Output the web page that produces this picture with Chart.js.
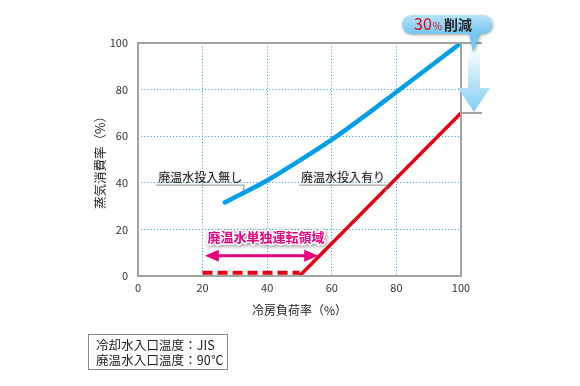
<!DOCTYPE html>
<html>
<head>
<meta charset="utf-8">
<script src="https://cdn.jsdelivr.net/npm/chart.js@4/dist/chart.umd.min.js"></script>
<style>
    html, body { margin: 0; padding: 0; background: #fff; }
    #wrap { position: relative; width: 580px; height: 386px; }
    #note {
        position: absolute; left: 88px; top: 334px; width: 140px; height: 36px;
        border: 1px solid #8a8a8a; box-sizing: border-box; white-space: nowrap;
        font: 12.5px "Noto Sans CJK JP", sans-serif; color: #222;
        padding: 2px 0 0 7px; line-height: 15px; letter-spacing: 0.1px;
    }
</style>
</head>
<body>
<div id="wrap">
    <canvas id="chart" width="580" height="386"></canvas>
    <div id="note">冷却水入口温度：JIS<br>廃温水入口温度：90℃</div>
</div>
<script>
// 冷房負荷率 (%) vs 蒸気消費率 (%)
const loadRate = [26.9, 30, 40, 50, 60, 70, 80, 90, 100];
const steamWithout = [31.6, 33.8, 41, 49.5, 58.5, 68.5, 79, 89.5, 100];

const withLoad = [50, 100];
const steamWith = [0, 70];

const soloLoad = [20, 50];
const soloSteam = [1.4, 1.4];

// 廃温水単独運転領域 arrow
const soloArrowLoad = [20.7, 55.8];
const soloArrowLevel = 8.7;

const tickValues = [0, 20, 40, 60, 80, 100];

const labelWithout = '廃温水投入無し';
const labelWith = '廃温水投入有り';
const labelSolo = '廃温水単独運転領域';
const reductionPct = '30';
const reductionText = '削減';

const FONT = '"Noto Sans CJK JP", "Noto Sans", sans-serif';
const BLUE = '#00a0e9';
const RED = '#e60012';
const PINK = '#e4007f';
const FRAME = '#a3a3a3';
const GRID = '#1c9fe0';

function toPoints(xs, ys) {
    return xs.map((x, i) => ({ x: x, y: ys[i] }));
}

function gridColor(c) {
    // no inner line on the frame itself
    if (c.tick && (c.tick.value === 0 || c.tick.value === 100)) return 'rgba(0,0,0,0)';
    return GRID;
}

function leaderLabel(ctx, text, tx, ty, px, py) {
    ctx.save();
    ctx.font = '12px ' + FONT;
    const w = ctx.measureText(text).width;
    ctx.strokeStyle = '#8c8c8c';
    ctx.lineWidth = 1;
    ctx.beginPath();
    ctx.moveTo(tx - 2, ty + 3.5);
    ctx.lineTo(tx + w + 2, ty + 3.5);
    ctx.lineTo(px, py);
    ctx.stroke();
    ctx.shadowColor = 'rgba(0,0,0,0.25)';
    ctx.shadowBlur = 2;
    ctx.fillStyle = '#222';
    ctx.textBaseline = 'alphabetic';
    ctx.fillText(text, tx, ty);
    ctx.restore();
}

const overlay = {
    id: 'overlay',
    afterDatasetsDraw(chart) {
        const ctx = chart.ctx;
        const xs = chart.scales.x;
        const ys = chart.scales.y;
        const area = chart.chartArea;

        // frame
        ctx.save();
        ctx.strokeStyle = FRAME;
        ctx.lineWidth = 2;
        ctx.strokeRect(area.left, area.top, area.right - area.left, area.bottom - area.top);
        const yTop = ys.getPixelForValue(100);
        const yLow = ys.getPixelForValue(steamWith[1]);
        ctx.beginPath();
        ctx.moveTo(area.right, yTop);
        ctx.lineTo(area.right + 21, yTop);
        ctx.moveTo(area.right, yLow);
        ctx.lineTo(area.right + 21, yLow);
        ctx.stroke();
        ctx.restore();

        // gradient reduction arrow
        const cx = area.right + 13;
        ctx.save();
        const g = ctx.createLinearGradient(0, yTop + 4, 0, yLow);
        g.addColorStop(0, 'rgba(255,255,255,1)');
        g.addColorStop(1, '#7fcdf1');
        ctx.fillStyle = g;
        ctx.beginPath();
        ctx.moveTo(cx - 6, yTop + 2);
        ctx.lineTo(cx + 6, yTop + 2);
        ctx.lineTo(cx + 6, yLow - 25);
        ctx.lineTo(cx + 16, yLow - 25);
        ctx.lineTo(cx, yLow - 1);
        ctx.lineTo(cx - 16, yLow - 25);
        ctx.lineTo(cx - 6, yLow - 25);
        ctx.closePath();
        ctx.fill();
        ctx.restore();

        // callout bubble
        ctx.save();
        const bx = area.right - 59, by = yTop - 28, bw = 90, bh = 19, r = 9.5;
        ctx.shadowColor = 'rgba(0,0,0,0.35)';
        ctx.shadowBlur = 3;
        ctx.shadowOffsetX = 1;
        ctx.shadowOffsetY = 1;
        const bg = ctx.createLinearGradient(0, by, 0, by + bh);
        bg.addColorStop(0, '#b5e3f8');
        bg.addColorStop(1, '#74c7ee');
        ctx.fillStyle = bg;
        ctx.beginPath();
        ctx.moveTo(bx + r, by);
        ctx.lineTo(bx + bw - r, by);
        ctx.arc(bx + bw - r, by + r, r, -Math.PI / 2, Math.PI / 2);
        ctx.lineTo(cx + 6, by + bh);
        ctx.lineTo(cx - 1, by + bh + 18);
        ctx.lineTo(cx - 5, by + bh);
        ctx.lineTo(bx + r, by + bh);
        ctx.arc(bx + r, by + r, r, Math.PI / 2, Math.PI * 1.5);
        ctx.closePath();
        ctx.fill();
        ctx.restore();

        ctx.save();
        ctx.textBaseline = 'alphabetic';
        let tx = bx + 12;
        const tyb = by + 15;
        ctx.fillStyle = RED;
        ctx.font = '16px ' + FONT;
        ctx.fillText(reductionPct, tx, tyb);
        tx += ctx.measureText(reductionPct).width + 1;
        ctx.font = '10px ' + FONT;
        ctx.fillText('%', tx, tyb);
        tx += ctx.measureText('%').width + 2;
        ctx.fillStyle = '#222';
        ctx.font = 'bold 14px ' + FONT;
        ctx.fillText(reductionText, tx, tyb);
        ctx.restore();

        // leader labels
        leaderLabel(ctx, labelWithout, xs.getPixelForValue(6.3), ys.getPixelForValue(40.5),
            xs.getPixelForValue(32.5), ys.getPixelForValue(36.3));
        leaderLabel(ctx, labelWith, xs.getPixelForValue(50.5), ys.getPixelForValue(40.5),
            xs.getPixelForValue(76.5), ys.getPixelForValue(36.3));

        // 単独運転領域 arrow
        const ax0 = xs.getPixelForValue(soloArrowLoad[0]);
        const ax1 = xs.getPixelForValue(soloArrowLoad[1]);
        const ay = ys.getPixelForValue(soloArrowLevel);
        ctx.save();
        ctx.fillStyle = PINK;
        ctx.fillRect(ax0 + 10, ay - 1.5, ax1 - ax0 - 20, 3);
        ctx.beginPath();
        ctx.moveTo(ax0, ay);
        ctx.lineTo(ax0 + 14, ay - 6);
        ctx.lineTo(ax0 + 14, ay + 6);
        ctx.closePath();
        ctx.moveTo(ax1, ay);
        ctx.lineTo(ax1 - 14, ay - 6);
        ctx.lineTo(ax1 - 14, ay + 6);
        ctx.closePath();
        ctx.fill();
        ctx.restore();

        ctx.save();
        ctx.font = 'bold 13px ' + FONT;
        ctx.textBaseline = 'middle';
        const sx = xs.getPixelForValue(21.5), sy = ys.getPixelForValue(16.8);
        ctx.shadowColor = 'rgba(0,0,0,0.45)';
        ctx.shadowBlur = 4;
        ctx.shadowOffsetX = 1;
        ctx.shadowOffsetY = 1;
        ctx.strokeStyle = '#fff';
        ctx.lineWidth = 3;
        ctx.lineJoin = 'round';
        ctx.strokeText(labelSolo, sx, sy);
        ctx.shadowColor = 'transparent';
        ctx.fillStyle = PINK;
        ctx.fillText(labelSolo, sx, sy);
        ctx.restore();
    }
};

new Chart(document.getElementById('chart'), {
    type: 'scatter',
    data: {
        datasets: [
            {
                label: labelWithout,
                data: toPoints(loadRate, steamWithout),
                showLine: true,
                borderColor: BLUE,
                borderWidth: 4.5,
                borderCapStyle: 'round',
                cubicInterpolationMode: 'monotone',
                pointRadius: 0
            },
            {
                label: labelWith,
                data: toPoints(withLoad, steamWith),
                showLine: true,
                borderColor: RED,
                borderWidth: 3.5,
                pointRadius: 0
            },
            {
                label: labelSolo,
                data: toPoints(soloLoad, soloSteam),
                showLine: true,
                borderColor: RED,
                borderWidth: 4,
                borderDash: [10, 5],
                pointRadius: 0
            }
        ]
    },
    options: {
        responsive: false,
        animation: false,
        layout: {
            padding: { left: 89, right: 119, top: 43, bottom: 64 }
        },
        plugins: {
            legend: { display: false },
            tooltip: { enabled: false }
        },
        scales: {
            x: {
                type: 'linear',
                min: 0,
                max: 100,
                afterBuildTicks: (scale) => { scale.ticks = tickValues.map(v => ({ value: v })); },
                afterFit: (scale) => { scale.height = 46; },
                grid: { drawTicks: false, color: gridColor, lineWidth: 1 },
                border: { display: false, dash: [1, 2.2] },
                ticks: { padding: 5, color: '#333', font: { family: FONT, size: 11 } },
                title: {
                    display: true,
                    text: '冷房負荷率（%）',
                    color: '#222',
                    font: { family: FONT, size: 12 },
                    padding: { top: 4, bottom: 4 }
                }
            },
            y: {
                min: 0,
                max: 100,
                afterBuildTicks: (scale) => { scale.ticks = tickValues.map(v => ({ value: v })); },
                afterFit: (scale) => { scale.width = 49; },
                grid: { drawTicks: false, color: gridColor, lineWidth: 1 },
                border: { display: false, dash: [1, 2.2] },
                ticks: { padding: 10, color: '#333', font: { family: FONT, size: 11 } },
                title: {
                    display: true,
                    text: '蒸気消費率（%）',
                    color: '#222',
                    font: { family: FONT, size: 12.5 },
                    padding: { top: 4, bottom: 4 }
                }
            }
        }
    },
    plugins: [overlay]
});
</script>
</body>
</html>
